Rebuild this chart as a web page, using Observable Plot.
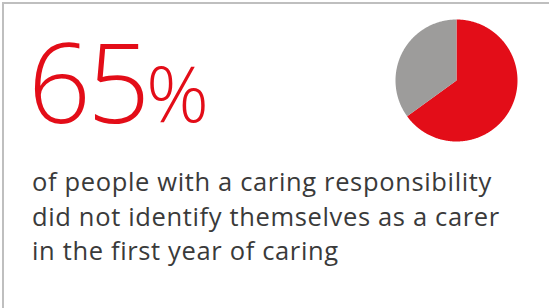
<!DOCTYPE html>
<html>
<head>
<meta charset="utf-8">
<script src="https://cdn.jsdelivr.net/npm/d3@7"></script>
<script src="https://cdn.jsdelivr.net/npm/@observablehq/plot@0.6"></script>
<style>
  html, body { margin: 0; padding: 0; background: #fff; width: 549px; height: 308px; overflow: hidden; }
  #card { position: absolute; left: 2px; top: 2px; width: 560px; height: 320px; border-left: 2px solid #bfbfbf; border-top: 2px solid #bfbfbf; box-sizing: border-box; }
  .big { position: absolute; color: #e30d18; font-family: "Open Sans", sans-serif; font-weight: 300; white-space: nowrap; }
  #num { left: 28px; top: 5px; font-size: 110px; letter-spacing: -3.5px; }
  #pct { left: 146px; top: 39px; font-size: 78px; }
  #pie { position: absolute; left: 391px; top: 15px; }
  #body { position: absolute; left: 32px; top: 164px; color: #3a3a3a; font-family: "Open Sans", sans-serif; font-size: 25.5px; line-height: 34.5px; letter-spacing: 0.65px; white-space: nowrap; }
</style>
</head>
<body>
<div id="card"></div>
<div id="num" class="big"></div>
<div id="pct" class="big">%</div>
<div id="pie"></div>
<div id="body"></div>
<script>
const headline = 65;
const categories = ["Did not identify as a carer", "Identified as a carer"];
const values = [65, 35];
const colors = ["#e30d18", "#9d9c9b"];
const bodyLines = [
  "of people with a caring responsibility",
  "did not identify themselves as a carer",
  "in the first year of caring"
];

document.getElementById("num").textContent = String(headline);
document.getElementById("body").innerHTML = bodyLines.map(l => `<div>${l}</div>`).join("");

// build pie slice polygons from values via d3.pie
const pie = d3.pie().sort(null).value(d => d.value)(categories.map((c, i) => ({category: c, value: values[i]})));
const pts = [];
for (const s of pie) {
  const n = Math.max(2, Math.ceil((s.endAngle - s.startAngle) / 0.01));
  pts.push({category: s.data.category, px: 0, py: 0});
  for (let k = 0; k <= n; k++) {
    const a = s.startAngle + (s.endAngle - s.startAngle) * k / n;
    pts.push({category: s.data.category, px: Math.sin(a), py: Math.cos(a)});
  }
  pts.push({category: s.data.category, px: 0, py: 0});
}

const size = 130;
const chart = Plot.plot({
  width: size, height: size,
  margin: 4,
  x: {domain: [-1, 1], axis: null},
  y: {domain: [-1, 1], axis: null},
  color: {domain: categories, range: colors},
  marks: categories.map(c =>
    Plot.line(pts.filter(d => d.category === c), {x: "px", y: "py", fill: colors[categories.indexOf(c)], stroke: null, curve: "linear"})
  )
});
document.getElementById("pie").appendChild(chart);
</script>
</body>
</html>
